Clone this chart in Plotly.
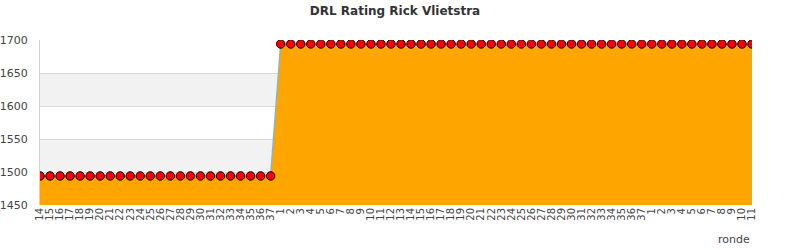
import plotly.graph_objects as go

rounds = [str(i) for i in range(14, 38)] + [str(i) for i in range(1, 38)] + [str(i) for i in range(1, 12)]
ratings = [1494] * 24 + [1694] * 48
title = "DRL Rating Rick Vlietstra"
x_title = "ronde"
y_ticks = [1450, 1500, 1550, 1600, 1650, 1700]
bands = [(1500, 1550), (1600, 1650)]

xs = list(range(len(rounds)))

fig = go.Figure()
fig.add_trace(go.Scatter(
    x=xs, y=ratings, mode="lines+markers",
    fill="tozeroy", fillcolor="#FFA500",
    line=dict(color="#7CB5EC", width=1.5),
    marker=dict(color="#FF0000", size=8.5, symbol="circle", line=dict(color="#000000", width=1)),
    hoverinfo="x+y", showlegend=False,
))

shapes = []
for lo, hi in bands:
    shapes.append(dict(type="rect", xref="paper", yref="y", x0=0, x1=1, y0=lo, y1=hi,
                       fillcolor="#F2F2F2", line=dict(width=0), layer="below"))

fig.update_layout(
    width=790, height=250,
    margin=dict(l=40, r=38, t=40, b=45),
    paper_bgcolor="white", plot_bgcolor="white",
    title=dict(text=f"<b>{title}</b>", x=0.5, xanchor="center", y=0.955, yanchor="middle",
               font=dict(family="DejaVu Sans", size=12, color="#333333")),
    shapes=shapes,
    font=dict(family="DejaVu Sans", size=11, color="#444444"),
)
fig.update_xaxes(
    range=[0, len(rounds) - 1], tickmode="array", tickvals=xs, ticktext=rounds,
    tickangle=-90, tickfont=dict(size=10, color="#444444"), showgrid=False, zeroline=False,
    showline=False, ticks="", automargin=False,
)
fig.update_yaxes(
    range=[1450, 1700], tickmode="array", tickvals=y_ticks, showgrid=True, gridcolor="#D8D8D8",
    gridwidth=1, zeroline=False, showline=True, linecolor="#D0D0D0", linewidth=1,
    tickfont=dict(size=11, color="#444444"), ticks="", ticklen=0, ticklabelstandoff=9,
    automargin=False,
)
fig.add_annotation(text=x_title, xref="paper", yref="paper", x=1.0, y=0, yshift=-34,
                   xanchor="right", yanchor="middle", showarrow=False,
                   font=dict(family="DejaVu Sans", size=11, color="#444444"))

fig.write_html("out.html")
